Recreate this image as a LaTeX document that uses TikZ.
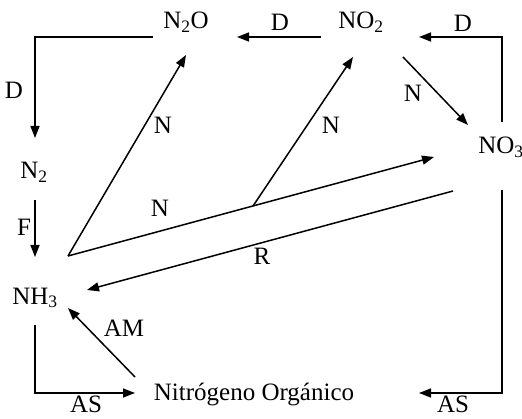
\documentclass[tikz,border=0pt]{standalone}
\usepackage{fontspec}
\setmainfont{Liberation Serif}
\usetikzlibrary{arrows.meta}
\begin{document}
\begin{tikzpicture}[x=1pt,y=-1pt,
  chem/.style={inner sep=0pt,font=\fontsize{25}{28}\selectfont},
  lbl/.style={inner sep=0pt,font=\fontsize{25}{28}\selectfont},
  conn/.style={line width=1.5pt,-{Triangle[length=12pt,width=9pt]}},
  plain/.style={line width=1.5pt}]
\useasboundingbox (0,0) rectangle (522,419);
% species
\node[chem] (n2o) at (186,22) {N\textsubscript{2}O};
\node[chem] (no2) at (361,22) {NO\textsubscript{2}};
\node[chem] (no3) at (501,147) {NO\textsubscript{3}};
\node[chem] (n2)  at (34,172) {N\textsubscript{2}};
\node[chem] (nh3) at (35,298) {NH\textsubscript{3}};
\node[chem] (norg) at (254,395) {Nitrógeno Orgánico};
% connector end points
\coordinate (n2oL) at (153,37);
\coordinate (n2T) at (35,138);
\coordinate (no2L) at (321,37);
\coordinate (n2oR) at (237,37);
\coordinate (no3T) at (502,122);
\coordinate (no2R) at (419,37);
\coordinate (no2D) at (403,57);
\coordinate (no3L) at (468,125);
\coordinate (fan) at (68,256);
\coordinate (n2oB) at (186,55);
\coordinate (no3W) at (434,157);
\coordinate (br) at (253,206);
\coordinate (no2B) at (353,57);
\coordinate (no3R) at (453,191);
\coordinate (nh3R) at (87,290);
\coordinate (n2B) at (35,200);
\coordinate (nh3T) at (35,257);
\coordinate (nh3B) at (35,325);
\coordinate (orgL) at (135,393);
\coordinate (no3B) at (502,190);
\coordinate (orgR) at (419,393);
\coordinate (orgA) at (135,377);
\coordinate (nh3A) at (68,308);
% connectors
\draw[conn] (n2oL) -| (n2T);
\draw[conn] (no2L) -- (n2oR);
\draw[conn] (no3T) |- (no2R);
\draw[conn] (no2D) -- (no3L);
\draw[conn] (fan) -- (n2oB);
\draw[conn] (fan) -- (no3W);
\draw[conn] (br) -- (no2B);
\draw[conn] (no3R) -- (nh3R);
\draw[conn] (n2B) -- (nh3T);
\draw[conn] (nh3B) |- (orgL);
\draw[conn] (no3B) |- (orgR);
\draw[conn] (orgA) -- (nh3A);
% labels
\node[lbl] (l1) at (14,90) {D};
\node[lbl] (l2) at (280,22) {D};
\node[lbl] (l3) at (463,23) {D};
\node[lbl] (l4) at (413,93) {N};
\node[lbl] (l5) at (163,125) {N};
\node[lbl] (l6) at (331,125) {N};
\node[lbl] (l7) at (160,208) {N};
\node[lbl] (l8) at (262,256) {R};
\node[lbl] (l9) at (24,227) {F};
\node[lbl] (l10) at (124,328) {AM};
\node[lbl] (l11) at (86,404) {AS};
\node[lbl] (l12) at (453,404) {AS};
\end{tikzpicture}
\end{document}
